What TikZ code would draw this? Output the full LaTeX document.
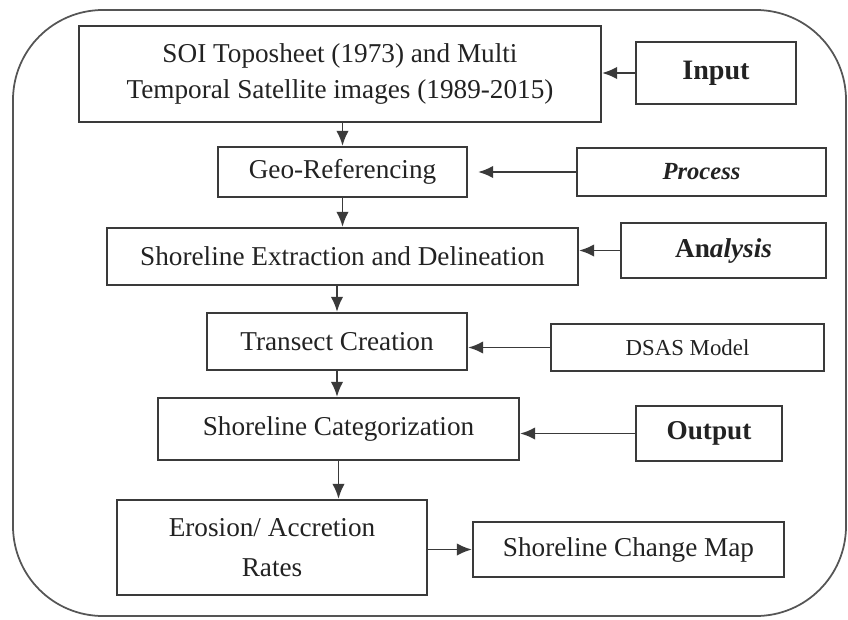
\documentclass[tikz,border=0pt]{standalone}
\usepackage{fontspec}
\setmainfont{Liberation Serif}
\usepackage{tikz}
\usetikzlibrary{arrows.meta,positioning,calc}
\definecolor{ink}{HTML}{222222}
\definecolor{edge}{HTML}{3A3A3A}
\definecolor{frame}{HTML}{555555}

\begin{document}
\begin{tikzpicture}[x=0.02cm,y=-0.02cm,
    box/.style={draw=edge, line width=1.35pt, inner sep=0pt, text=ink, align=center,
      font=\fontsize{15.5}{20}\selectfont},
    arr/.style={draw=edge, line width=1.1pt, -{Latex[length=0.3cm,width=0.25cm]}}]
  \useasboundingbox (0,0) rectangle (848,619);
  \draw[frame, line width=1pt, rounded corners=1.8cm] (13,10) rectangle (846,616);

  % main chain
  \node[box, minimum width=10.44cm, minimum height=1.92cm] (top) at (340,74)
    {SOI Toposheet (1973) and Multi\\Temporal Satellite images (1989-2015)};
  \node[box, minimum width=4.98cm, minimum height=1.0cm] (geo) at (342.5,172) {Geo-Referencing};
  \node[box, minimum width=9.42cm, minimum height=1.14cm] (extract) at (342.5,256.5)
    {Shoreline Extraction and Delineation};
  \node[box, minimum width=5.2cm, minimum height=1.14cm] (transect) at (337,341.5) {Transect Creation};
  \node[box, minimum width=7.22cm, minimum height=1.24cm] (categ) at (338.5,429)
    {Shoreline Categorization};
  \node[box, minimum width=6.2cm, minimum height=1.9cm, font=\fontsize{15.5}{23}\selectfont]
    (erosion) at (272,547.5) {Erosion/ Accretion\\Rates};
  \node[box, minimum width=6.22cm, minimum height=1.1cm] (map) at (628.5,549.5) {Shoreline Change Map};

  % side labels
  \node[box, minimum width=3.2cm, minimum height=1.24cm, font=\fontsize{16}{20}\selectfont\bfseries]
    (input) at (716,73) {Input};
  \node[box, minimum width=4.98cm, minimum height=0.96cm, font=\fontsize{14}{18}\selectfont\bfseries\itshape]
    (process) at (701.5,172) {Process};
  \node[box, minimum width=4.1cm, minimum height=1.1cm, font=\fontsize{15.5}{20}\selectfont\bfseries]
    (analysis) at (723.5,250.5) {An\textit{alysis}};
  \node[box, minimum width=5.46cm, minimum height=0.94cm, font=\fontsize{13}{16}\selectfont]
    (dsas) at (687.5,347.5) {DSAS Model};
  \node[box, minimum width=2.92cm, minimum height=1.1cm, font=\fontsize{15.5}{20}\selectfont\bfseries]
    (output) at (709,433.5) {Output};

  % connectors
  \draw[arr] (top.south -| geo.north) -- (geo.north);
  \draw[arr] (geo.south) -- (geo.south |- extract.north);
  \draw[arr] (extract.south -| transect.north) -- (transect.north);
  \draw[arr] (transect.south) -- (transect.south |- categ.north);
  \draw[arr] (categ.south) -- (categ.south |- erosion.north);
  \draw[arr] (erosion.east |- map.west) -- (map.west);
  \draw[arr] (input.west) -- (input.west -| top.east);
  \draw[arr, shorten >=0.2cm] (process.west) -- (process.west -| geo.east);
  \draw[arr] (analysis.west) -- (analysis.west -| extract.east);
  \draw[arr] (dsas.west) -- (dsas.west -| transect.east);
  \draw[arr] (output.west) -- (output.west -| categ.east);
\end{tikzpicture}
\end{document}
